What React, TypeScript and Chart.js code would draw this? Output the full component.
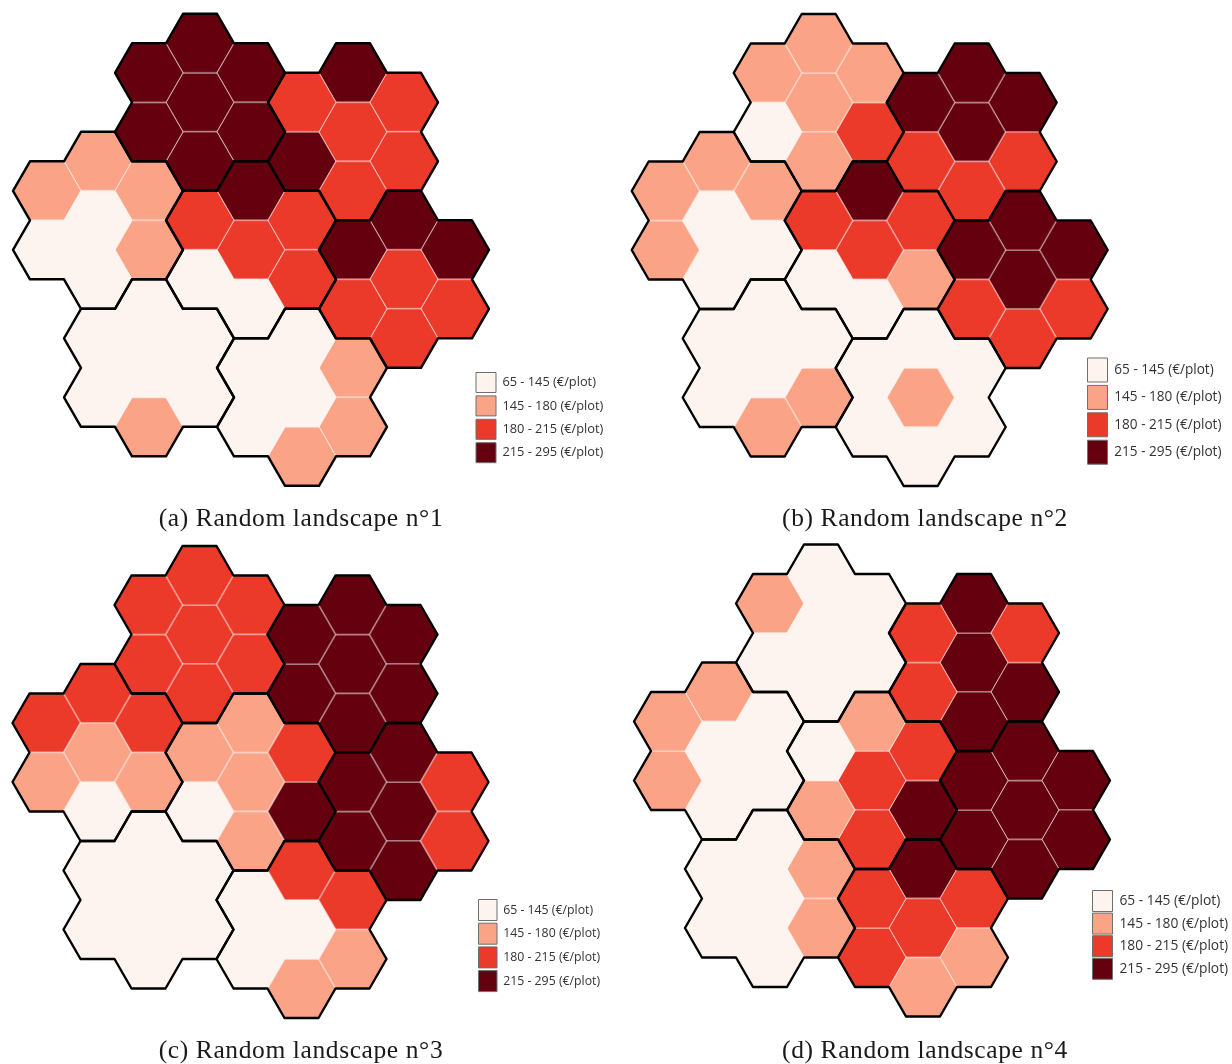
import React, { useEffect, useRef } from "react";
import { Chart, registerables } from "chart.js";

Chart.register(...registerables);

// Class labels and colours
const classLabels = ["65 - 145 (€/plot)", "145 - 180 (€/plot)", "180 - 215 (€/plot)", "215 - 295 (€/plot)"];
const classColors = ["#fdf3ef", "#fba387", "#eb392a", "#65000e"];

// Farm centres in hex-grid units (column, half-row)
const farmCols = [3, 6, 1, 4, 7, 2, 5];
const farmRows = [2, 3, 6, 7, 8, 11, 12];

// Plot positions inside a farm: centre, N, NE, SE, S, SW, NW
const plotCols = [0, 0, 1, 1, 0, -1, -1];
const plotRows = [0, -2, -1, 1, 2, 1, -1];

// Income class of every plot, farm by farm
const landscape1 = [
  [3, 3, 3, 3, 3, 3, 3],
  [2, 3, 2, 2, 2, 3, 2],
  [0, 1, 1, 1, 0, 0, 1],
  [2, 3, 2, 2, 0, 0, 2],
  [2, 3, 3, 2, 2, 2, 3],
  [0, 0, 0, 0, 1, 0, 0],
  [0, 0, 1, 1, 1, 0, 0],
];
const landscape2 = [
  [1, 1, 1, 2, 1, 0, 1],
  [3, 3, 3, 2, 2, 2, 3],
  [0, 1, 1, 0, 0, 1, 1],
  [2, 3, 2, 1, 0, 0, 2],
  [3, 3, 3, 2, 2, 2, 3],
  [0, 0, 0, 1, 1, 0, 0],
  [1, 0, 0, 0, 0, 0, 0],
];
const landscape3 = [
  [2, 2, 2, 2, 2, 2, 2],
  [3, 3, 3, 3, 3, 3, 3],
  [1, 2, 2, 1, 0, 1, 2],
  [1, 1, 2, 3, 1, 0, 1],
  [3, 3, 2, 2, 3, 3, 3],
  [0, 0, 0, 0, 0, 0, 0],
  [0, 2, 2, 1, 1, 0, 0],
];
const landscape4 = [
  [0, 0, 0, 0, 0, 0, 1],
  [3, 3, 2, 3, 3, 2, 2],
  [0, 1, 0, 0, 0, 1, 1],
  [2, 1, 2, 3, 2, 1, 0],
  [3, 3, 3, 3, 3, 3, 3],
  [0, 0, 1, 1, 0, 0, 0],
  [2, 3, 2, 1, 1, 2, 2],
];

const captions = [
  "(a) Random landscape n°1",
  "(b) Random landscape n°2",
  "(c) Random landscape n°3",
  "(d) Random landscape n°4",
];

const UNIT_X = 51;
const UNIT_Y = 29.5;
const CANVAS_H = 532;
const TITLE_SIZE = 25.5;
const TITLE_H = 36;

type Layout = {
  left: number; top: number; width: number; padRight: number;
  x0: number; y0: number;
  legendX: number; legendY: number;
  boxW: number; boxH: number; step: number; fontSize: number;
};

const layouts: Layout[] = [
  { left: 0, top: 0, width: 602, padRight: 14, x0: 47, y0: 43.3, legendX: 476, legendY: 372.5, boxW: 20, boxH: 20, step: 23.4, fontSize: 12.8 },
  { left: 618, top: 0, width: 614, padRight: 0, x0: 47.7, y0: 43.5, legendX: 469.5, legendY: 358, boxW: 20, boxH: 24, step: 27.4, fontSize: 13.6 },
  { left: 0, top: 532, width: 602, padRight: 14, x0: 46.5, y0: 43.5, legendX: 478.5, legendY: 367.5, boxW: 18.5, boxH: 21, step: 23.7, fontSize: 12.3 },
  { left: 618, top: 532, width: 614, padRight: 0, x0: 50, y0: 42, legendX: 474.5, legendY: 358.5, boxW: 20, boxH: 21, step: 22.6, fontSize: 13.8 },
];

function hexImage(color: string, stroke: string): HTMLCanvasElement {
  const c = document.createElement("canvas");
  c.width = 72;
  c.height = 63;
  const g = c.getContext("2d")!;
  const hw = UNIT_X * (2 / 3);
  const hh = UNIT_Y;
  g.translate(36, 31.5);
  g.beginPath();
  g.moveTo(-hw, 0);
  g.lineTo(-hw / 2, -hh);
  g.lineTo(hw / 2, -hh);
  g.lineTo(hw, 0);
  g.lineTo(hw / 2, hh);
  g.lineTo(-hw / 2, hh);
  g.closePath();
  g.fillStyle = color;
  g.fill();
  g.strokeStyle = stroke;
  g.lineWidth = 0.7;
  g.stroke();
  return c;
}

// Outer boundary of a farm, traced from the edges its plots do not share
function farmOutline(farm: number) {
  const off = [[-2, 0], [-1, -1], [1, -1], [2, 0], [1, 1], [-1, 1]];
  const edges = new Map<string, [string, string]>();
  plotCols.forEach((pc, i) => {
    const cx = 3 * (farmCols[farm] + pc);
    const cy = farmRows[farm] + plotRows[i];
    const vs = off.map(([dx, dy]) => `${cx + dx},${cy + dy}`);
    vs.forEach((v, k) => {
      const w = vs[(k + 1) % 6];
      const key = [v, w].sort().join("|");
      if (edges.has(key)) edges.delete(key);
      else edges.set(key, [v, w]);
    });
  });
  const adj = new Map<string, string[]>();
  edges.forEach(([v, w]) => {
    adj.set(v, [...(adj.get(v) || []), w]);
    adj.set(w, [...(adj.get(w) || []), v]);
  });
  const start = [...adj.keys()][0];
  const path = [start];
  let prev = "";
  let cur = start;
  do {
    const nb = adj.get(cur)!;
    const nxt = nb[0] === prev ? nb[1] : nb[0];
    prev = cur;
    cur = nxt;
    path.push(cur);
  } while (cur !== start);
  return path.map((s) => {
    const [a, b] = s.split(",").map(Number);
    return { x: a / 3, y: b };
  });
}

const legendPlacer = {
  id: "legendPlacer",
  afterLayout(chart: any) {
    const o = chart.options.plugins.legendPlacer;
    const l = chart.legend;
    const pad = l.options.labels.padding;
    const w = l.width;
    const h = l.height;
    l.left = o.x - pad;
    l.top = o.y - pad;
    l.right = l.left + w;
    l.bottom = l.top + h;
    const tb = chart.titleBlock;
    if (tb && !tb.__spaced) {
      tb.__spaced = true;
      const draw = tb.draw.bind(tb);
      tb.draw = () => {
        const ctx = chart.ctx;
        ctx.save();
        ctx.letterSpacing = "0.6px";
        draw();
        ctx.restore();
      };
    }
  },
};

function Panel({ data, layout, caption }: { data: number[][]; layout: Layout; caption: string }) {
  const ref = useRef<HTMLCanvasElement>(null);
  useEffect(() => {
    const hexDatasets = classLabels.map((label, k) => {
      const pts: { x: number; y: number }[] = [];
      data.forEach((farm, f) =>
        farm.forEach((v, p) => {
          if (v === k) pts.push({ x: farmCols[f] + plotCols[p], y: farmRows[f] + plotRows[p] });
        })
      );
      return {
        label,
        data: pts,
        order: 1,
        clip: false,
        showLine: false,
        pointStyle: hexImage(classColors[k], k === 0 ? classColors[0] : "rgba(255,255,255,0.8)") as any,
        pointRadius: 3,
        backgroundColor: classColors[k],
        borderColor: "#6f6f6f",
        borderWidth: 1,
      };
    });
    const outlineDatasets = farmCols.map((_, f) => ({
      label: "farm " + (f + 1),
      data: farmOutline(f),
      order: 0,
      clip: false,
      showLine: true,
      tension: 0,
      fill: false,
      pointRadius: 0,
      borderColor: "#000000",
      borderWidth: 2.4,
      borderJoinStyle: "round" as const,
      borderCapStyle: "round" as const,
    }));
    const areaH = CANVAS_H - TITLE_H;
    const chart = new Chart(ref.current!, {
      type: "scatter",
      data: { datasets: [...hexDatasets, ...outlineDatasets] as any },
      plugins: [legendPlacer],
      options: {
        animation: false,
        responsive: false,
        maintainAspectRatio: false,
        layout: { padding: { right: layout.padRight }, autoPadding: false },
        events: [],
        scales: {
          x: {
            type: "linear",
            display: false,
            bounds: "data",
            min: -layout.x0 / UNIT_X,
            max: (layout.width - layout.x0) / UNIT_X,
          },
          y: {
            type: "linear",
            display: false,
            reverse: true,
            bounds: "data",
            min: -layout.y0 / UNIT_Y,
            max: (areaH - layout.y0) / UNIT_Y,
          },
        },
        plugins: {
          tooltip: { enabled: false },
          title: {
            display: true,
            text: caption,
            position: "bottom",
            color: "#1a1a1a",
            font: { family: "'Liberation Serif', serif", size: TITLE_SIZE, weight: "normal", lineHeight: 1 },
            padding: { top: 10.5, bottom: 0 },
          },
          legend: {
            display: true,
            position: "chartArea",
            align: "start",
            labels: {
              boxWidth: layout.boxW,
              boxHeight: layout.boxH,
              padding: layout.step - Math.max(layout.boxH, layout.fontSize),
              color: "#333333",
              font: { family: "'Open Sans', sans-serif", size: layout.fontSize },
              filter: (item: any) => item.datasetIndex < 4,
            },
          } as any,
          legendPlacer: { x: layout.legendX, y: layout.legendY },
        } as any,
      },
    });
    return () => chart.destroy();
  }, [data, layout, caption]);
  return (
    <canvas
      ref={ref}
      width={layout.width + layout.padRight}
      height={CANVAS_H}
      style={{ position: "absolute", left: layout.left, top: layout.top, display: "block" }}
    />
  );
}

export default function App() {
  const all = [landscape1, landscape2, landscape3, landscape4];
  return (
    <div>
      {all.map((d, i) => (
        <Panel key={i} data={d} layout={layouts[i]} caption={captions[i]} />
      ))}
    </div>
  );
}
